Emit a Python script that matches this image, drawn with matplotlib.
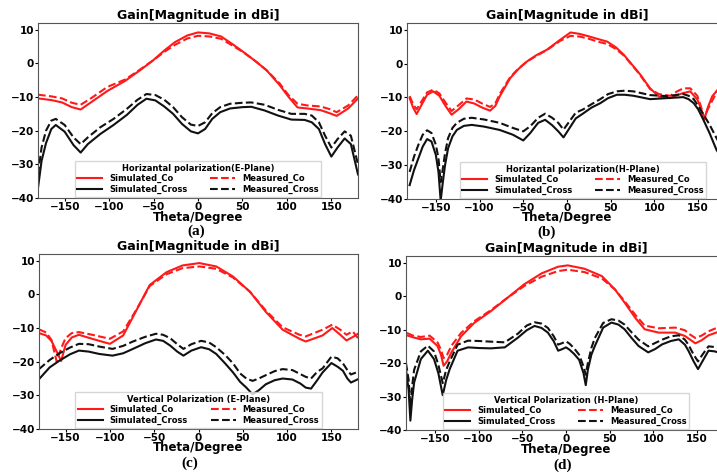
import matplotlib
matplotlib.use("Agg")
import matplotlib.pyplot as plt

# ---------------- data ----------------
# (a) Horizontal polarization, E-plane
theta_a_co = [-180, -165, -153, -142, -132, -120, -102, -82, -65, -51, -38, -26, -12, 0,
              13, 26, 40, 51, 64, 77, 92, 102, 112, 123, 138, 148, 156, 169, 180]
sim_co_a = [-10.4, -10.9, -11.6, -13.0, -13.7, -11.5, -8.2, -5.2, -2.0, 0.8, 3.8, 6.3, 8.3, 9.2,
            8.9, 8.0, 5.5, 3.4, 0.8, -2.0, -6.5, -10.0, -13.1, -13.4, -13.9, -14.8, -15.6, -13.4, -10.4]
meas_co_a = [-9.3, -9.8, -10.4, -11.7, -12.3, -10.3, -7.0, -4.8, -1.8, 0.8, 3.4, 5.5, 7.4, 8.2,
             8.0, 7.3, 5.1, 3.3, 0.8, -2.0, -6.0, -9.5, -12.0, -12.5, -12.8, -13.6, -14.5, -12.5, -9.5]
theta_a_cross = [-180, -176, -171, -165, -160, -150, -140, -132, -124, -110, -95, -80, -68, -58,
                 -48, -38, -28, -18, -8, 0, 8, 16, 25, 36, 50, 60, 75, 90, 105, 120, 128, 136,
                 143, 150, 157, 165, 172, 180]
sim_cross_a = [-37.0, -29.0, -23.7, -19.5, -18.3, -20.3, -24.3, -26.5, -24.0, -21.0, -18.3, -15.3,
               -12.3, -10.5, -11.0, -12.8, -15.0, -18.0, -20.2, -20.8, -19.5, -16.5, -14.5, -13.4,
               -13.0, -12.9, -14.0, -15.5, -16.7, -16.8, -17.5, -19.5, -24.0, -27.7, -25.0, -22.3,
               -24.0, -33.0]
meas_cross_a = [-33.0, -25.0, -20.0, -17.0, -16.5, -18.3, -22.0, -24.0, -22.0, -19.0, -16.5, -13.5,
                -10.8, -9.1, -9.4, -10.8, -13.0, -16.0, -18.2, -18.6, -17.5, -14.8, -13.0, -12.0,
                -11.7, -11.6, -12.3, -13.8, -15.0, -15.0, -15.5, -17.5, -21.5, -25.0, -22.5, -20.2,
                -21.5, -30.0]

# (b) Horizontal polarization, H-plane
theta_b_co = [-180, -176, -172, -166, -160, -153, -146, -139, -132, -124, -115, -106, -97, -88,
              -82, -77, -65, -56, -46, -35, -23, -8, 4, 14, 23, 35, 46, 56, 65, 75, 84, 95, 105,
              118, 126, 133, 141, 149, 153, 157, 161, 166, 172, 180]
sim_co_b = [-10.2, -13.0, -14.9, -12.0, -9.2, -8.2, -9.5, -12.5, -15.1, -13.5, -11.2, -11.8, -13.0,
            -13.9, -12.5, -9.7, -4.3, -1.7, 0.6, 2.5, 4.1, 7.0, 9.2, 8.8, 8.2, 7.3, 6.5, 4.8, 2.6,
            -0.5, -3.3, -7.3, -9.7, -10.2, -9.3, -8.7, -8.2, -10.6, -13.0, -16.6, -13.0, -9.7,
            -7.8, -7.5]
meas_co_b = [-9.6, -12.0, -13.5, -11.0, -8.5, -7.7, -8.8, -11.5, -14.0, -12.3, -10.3, -10.6, -11.8,
             -12.8, -11.8, -9.0, -4.0, -1.6, 0.6, 2.3, 4.0, 6.7, 8.2, 8.0, 7.5, 6.5, 5.8, 4.3, 2.4,
             -0.6, -3.5, -7.5, -9.0, -9.5, -8.2, -7.3, -7.3, -9.5, -12.5, -16.0, -13.5, -11.0,
             -8.0, -7.5]
theta_b_cross = [-180, -175, -170, -165, -160, -155, -150, -147, -144.5, -142, -139.5, -136, -131,
                 -126, -118, -109, -95, -77, -62, -50, -42, -33, -25, -17, -10, -4, 3, 10, 18.6,
                 28, 38, 47, 57, 66, 76, 95, 114, 133, 139, 145, 150, 156, 163, 171, 180]
sim_cross_b = [-35.9, -31.5, -28.0, -24.5, -22.3, -23.0, -27.0, -32.0, -40.5, -35.0, -30.0, -25.0,
               -21.5, -19.6, -18.4, -18.1, -18.6, -19.6, -21.0, -22.7, -20.5, -17.5, -16.6, -18.2,
               -20.0, -21.8, -19.0, -16.2, -14.7, -13.0, -11.7, -10.2, -9.2, -9.2, -9.5, -10.5,
               -10.2, -9.9, -10.5, -11.7, -13.5, -16.6, -20.5, -25.5, -29.0]
meas_cross_b = [-32.0, -27.5, -24.0, -21.0, -19.7, -20.5, -24.0, -28.0, -35.0, -31.0, -26.5, -22.0,
                -19.0, -17.5, -16.3, -16.0, -16.5, -17.5, -19.0, -20.0, -18.5, -16.0, -14.8, -16.0,
                -17.5, -19.5, -17.0, -14.5, -13.5, -12.0, -10.5, -9.0, -8.2, -8.0, -8.2, -9.3,
                -9.6, -9.0, -9.5, -10.5, -12.5, -15.0, -18.0, -22.0, -26.0]

# (c) Vertical polarization, E-plane
theta_c_co = [-180, -172, -166, -160, -155, -150, -143, -135, -120, -100, -85, -70, -55, -36, -18,
              1, 20, 39, 58, 76, 95, 114, 121, 140, 151, 160, 167, 174, 180]
sim_co_c = [-11.5, -12.2, -13.8, -17.0, -19.8, -15.0, -12.8, -12.0, -13.2, -14.7, -12.2, -4.7, 2.8,
            6.6, 8.6, 9.3, 8.3, 5.3, 0.8, -5.2, -10.5, -13.2, -14.0, -12.2, -10.0, -12.0, -13.7,
            -12.7, -11.7]
meas_co_c = [-10.4, -11.3, -13.5, -20.0, -16.0, -13.0, -11.5, -11.2, -12.0, -13.2, -11.0, -4.5, 2.5,
             6.0, 7.8, 8.3, 7.6, 5.0, 0.8, -4.8, -9.8, -12.0, -12.5, -10.5, -9.0, -10.5, -12.0,
             -11.0, -13.0]
theta_c_cross = [-180, -168, -157, -145, -135, -124, -112, -97, -85, -74, -60, -48, -40, -32, -24,
                 -17, -8, 3, 12, 20, 30, 39, 47, 54, 61, 68, 76, 86, 95, 106, 115, 121, 127, 134,
                 140, 150, 157, 163, 168, 172, 180]
sim_cross_c = [-25.2, -21.7, -19.7, -17.8, -16.7, -17.0, -17.7, -18.2, -17.5, -16.2, -14.5, -13.4,
               -13.8, -15.2, -17.0, -18.2, -16.7, -15.7, -16.3, -17.7, -20.5, -23.2, -26.0, -27.7,
               -29.7, -28.5, -26.7, -25.5, -25.0, -25.3, -26.5, -27.7, -28.0, -25.5, -23.2, -20.4,
               -21.5, -22.7, -25.0, -26.2, -25.2]
meas_cross_c = [-22.2, -19.5, -17.5, -15.8, -14.7, -14.8, -15.5, -16.2, -15.3, -14.0, -12.6, -11.7,
                -12.0, -13.0, -14.8, -16.2, -14.8, -13.8, -14.3, -15.7, -18.0, -20.5, -23.5, -25.0,
                -25.7, -25.0, -24.0, -22.8, -22.2, -22.5, -23.7, -24.5, -25.0, -23.0, -22.0, -18.5,
                -19.0, -20.5, -22.5, -23.8, -23.0]

# (d) Vertical polarization, H-plane
theta_d_co = [-182, -175, -166, -156, -147, -143, -140, -136, -131, -120, -105, -86, -67, -48, -28,
              -9, 2, 21, 41, 56, 67, 79, 90, 106, 125, 136, 142, 148, 155, 163, 174, 183]
sim_co_d = [-11.7, -12.3, -12.9, -12.7, -14.9, -17.5, -20.8, -19.5, -16.8, -12.0, -8.0, -4.5, -0.5,
            3.5, 6.8, 8.8, 9.2, 8.2, 6.0, 2.0, -1.9, -6.4, -9.9, -10.9, -10.9, -11.9, -13.0, -14.1,
            -13.2, -11.7, -10.7, -10.5]
meas_co_d = [-11.0, -11.8, -12.2, -11.8, -13.8, -16.0, -18.5, -17.5, -14.8, -11.0, -7.5, -4.2, -0.5,
             3.0, 5.8, 7.5, 7.9, 7.2, 5.3, 2.0, -1.5, -5.5, -8.8, -9.6, -9.4, -10.2, -11.5, -12.5,
             -11.8, -10.5, -9.3, -9.0]
theta_d_cross = [-183, -180, -178, -176, -173.7, -166, -158, -151, -146, -141, -137, -133, -124,
                 -112, -100, -86, -70, -55, -45, -36, -28, -20.7, -14, -9, -4, 0, 4, 9, 15, 20,
                 22.6, 25, 29, 33, 42.5, 52, 60, 67, 75, 83, 94, 102, 110, 120, 129, 136, 140,
                 146, 151, 156, 163, 170, 183]
sim_cross_d = [-22.0, -28.0, -37.2, -31.0, -25.8, -18.8, -16.3, -18.8, -23.0, -29.6, -25.0, -21.8,
               -16.3, -15.3, -15.5, -15.6, -15.3, -12.4, -10.2, -8.9, -9.5, -10.9, -13.5, -16.3,
               -15.8, -15.3, -16.0, -17.2, -19.0, -23.0, -26.6, -22.0, -17.5, -14.9, -9.4, -7.9,
               -8.5, -9.9, -12.5, -14.9, -16.8, -15.8, -14.4, -13.4, -12.9, -14.5, -16.3, -19.5,
               -21.8, -19.5, -16.3, -16.5, -17.5]
meas_cross_d = [-20.0, -25.0, -33.0, -27.0, -22.0, -16.5, -14.8, -16.5, -20.5, -26.0, -22.0, -19.5,
                -14.5, -13.3, -13.4, -13.6, -13.8, -11.2, -8.8, -7.8, -8.2, -9.5, -12.0, -14.5,
                -14.0, -13.5, -14.2, -15.5, -17.5, -21.0, -23.5, -20.0, -15.5, -12.5, -8.0, -6.9,
                -7.3, -8.5, -10.8, -13.0, -15.0, -14.0, -13.0, -12.0, -11.7, -13.0, -14.5, -17.5,
                -19.5, -17.5, -15.0, -15.2, -16.0]

legend_titles = ["Horizantal polarization(E-Plane)", "Horizantal polarization(H-Plane)",
                 "Vertical Polarization (E-Plane)", "Vertical Polarization (H-Plane)"]
panel_tags = ["(a)", "(b)", "(c)", "(d)"]
y_ticks = [-40, -30, -20, -10, 0, 10]
x_ticks = [-150, -100, -50, 0, 50, 100, 150]

plt.rcParams["font.family"] = "DejaVu Sans"
plt.rcParams["font.weight"] = "bold"
plt.rcParams["axes.titleweight"] = "bold"
plt.rcParams["axes.labelweight"] = "bold"


def draw_panel(ax, th_co, s_co, m_co, th_cr, s_cr, m_cr, leg_title, xlim, leg_shift=0.0):
    l1, = ax.plot(th_co, s_co, color="#ff1a1a", lw=1.5, label="Simulated_Co")
    l2, = ax.plot(th_co, m_co, color="#ff1a1a", lw=1.5, ls="--", label="Measured_Co")
    l3, = ax.plot(th_cr, s_cr, color="#111111", lw=1.5, label="Simulated_Cross")
    l4, = ax.plot(th_cr, m_cr, color="#111111", lw=1.5, ls="--", label="Measured_Cross")
    ax.set_xlim(*xlim)
    ax.set_ylim(-40, 12)
    ax.set_xticks(x_ticks)
    ax.set_yticks(y_ticks)
    ax.tick_params(labelsize=7.5, length=2, pad=0.8)
    ax.set_title("Gain[Magnitude in dBi]", fontsize=9, pad=3)
    ax.set_xlabel("Theta/Degree", fontsize=8.5, labelpad=-1)
    for s in ax.spines.values():
        s.set_color("#555555")
    ax.legend(handles=[l1, l3, l2, l4], ncol=2, loc="lower center",
              bbox_to_anchor=(0.5 + leg_shift, 0.0), borderaxespad=0.15,
              title=leg_title, title_fontproperties={"weight": "bold", "size": 6},
              prop={"weight": "bold", "size": 6}, handlelength=3.0,
              columnspacing=2.8, labelspacing=0.2, borderpad=0.3,
              edgecolor="#cccccc", fancybox=False)


W, H = 717, 472
fig = plt.figure(figsize=(W / 100, H / 100), dpi=100)

ax_a = fig.add_axes([38 / W, 1 - 198 / H, 320 / W, 175 / H])
ax_b = fig.add_axes([407 / W, 1 - 199 / H, 320 / W, 176 / H])
ax_c = fig.add_axes([39 / W, 1 - 429 / H, 319 / W, 175 / H])
ax_d = fig.add_axes([406 / W, 1 - 430 / H, 320 / W, 174 / H])

draw_panel(ax_a, theta_a_co, sim_co_a, meas_co_a, theta_a_cross, sim_cross_a, meas_cross_a,
           legend_titles[0], (-180, 180))
draw_panel(ax_b, theta_b_co, sim_co_b, meas_co_b, theta_b_cross, sim_cross_b, meas_cross_b,
           legend_titles[1], (-183, 183), leg_shift=0.05)
draw_panel(ax_c, theta_c_co, sim_co_c, meas_co_c, theta_c_cross, sim_cross_c, meas_cross_c,
           legend_titles[2], (-180, 180))
draw_panel(ax_d, theta_d_co, sim_co_d, meas_co_d, theta_d_cross, sim_cross_d, meas_cross_d,
           legend_titles[3], (-183, 183))

tag_pos = [(196, 231), (547, 232), (190, 463), (563, 465)]
for tag, (px, py) in zip(panel_tags, tag_pos):
    fig.text(px / W, 1 - py / H, tag, ha="center", va="center", fontsize=11,
             family="Liberation Serif", weight="bold")

fig.savefig("out.png", dpi=100)
